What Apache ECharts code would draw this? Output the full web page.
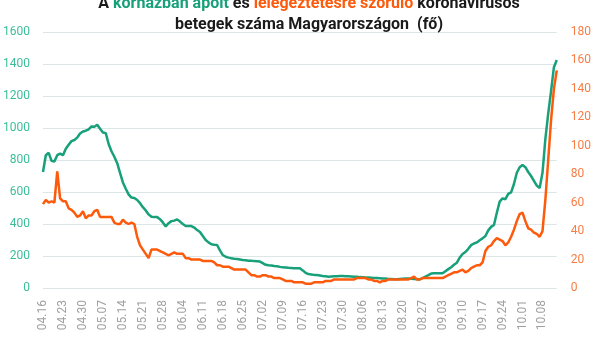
<!DOCTYPE html>
<html><head><meta charset="utf-8">
<script src="https://cdn.jsdelivr.net/npm/echarts@6/dist/echarts.min.js"></script>
<style>html,body{margin:0;padding:0;background:#fff}#c{width:594px;height:337px}</style>
</head><body><div id="c"></div>
<script>
// categories: daily dates from 04.16 to 10.13
var startMonth = 4, startDay = 16, dayCount = 181;
var hospitalized = [725,830,845,795,790,830,840,830,870,895,918,925,940,965,978,983,992,1010,1008,1020,995,972,968,900,855,820,780,720,660,620,585,565,562,550,530,505,485,460,445,443,443,430,410,385,405,418,421,429,415,400,388,387,387,378,362,350,325,300,285,273,270,269,235,206,195,190,186,183,181,178,175,173,171,170,168,167,165,155,145,142,140,137,136,132,129,128,126,125,124,124,123,110,95,87,85,82,81,78,75,73,71,72,73,74,75,75,74,73,72,71,70,68,67,66,65,64,63,62,61,60,59,57,56,54,54,56,58,59,60,58,56,54,54,62,71,80,90,92,92,92,92,105,118,130,145,158,190,212,225,245,268,278,285,298,310,325,360,382,394,470,540,560,555,588,598,650,720,755,769,755,725,700,670,640,625,720,930,1090,1230,1380,1425];
var ventilated = [59,62,60,61,60,82,63,61,61,56,55,53,50,51,54,49,51,51,54,55,50,50,50,50,50,46,45,45,48,46,45,46,45,36,30,27,24,21,27,27,27,26,25,24,23,24,25,24,24,24,21,21,20,20,20,20,19,19,19,19,18,16,16,15,15,15,14,13,13,13,13,13,11,9,9,8,8,9,9,8,8,7,7,7,6,5,5,5,4,4,4,4,3,3,3,4,4,4,4,5,5,5,6,6,6,6,6,6,6,6,7,7,7,7,6,6,5,5,4,5,5,6,6,6,6,6,6,6,6,7,8,6,6,7,7,7,7,7,7,7,7,8,9,10,11,11,12,13,11,12,14,15,16,16,18,26,29,30,33,35,34,33,30,32,36,41,47,52,53,47,42,41,39,38,36,40,62,90,118,140,153];
var leftTicks = {min:0, max:1600, interval:200};
var rightTicks = {min:0, max:180, interval:20};

var monthDays = [0,31,29,31,30,31,30,31,31,30,31,30,31];
var dates = [];
(function(){
  var m = startMonth, d = startDay;
  for (var i = 0; i < dayCount; i++) {
    dates.push((m<10?'0':'')+m+'.'+(d<10?'0':'')+d);
    d++; if (d > monthDays[m]) { d = 1; m++; }
  }
})();

var GREEN = '#17a079', ORANGE = '#fd5a0c';
var chart = echarts.init(document.getElementById('c'));
var rs = function(c){return {fontFamily:'Roboto',fontWeight:'bold',fontSize:16,color:c,lineHeight:21};};
chart.setOption({
  animation:false,
  title:{
    text:'{n|A }{g|kórházban ápolt}{n| és }{o|lélegeztetésre szoruló}{n| koronavírusos}\n{n|betegek száma Magyarországon  (fő)}',
    left:304, textAlign:'center', top:-12,
    textStyle:{ rich:{ n:rs('#1a1a1a'), g:rs(GREEN), o:rs(ORANGE) } }
  },
  grid:{left:42,right:36,top:32,bottom:49},
  xAxis:{
    type:'category', data:dates, boundaryGap:false,
    axisLine:{show:false}, axisTick:{show:false},
    axisLabel:{interval:6, rotate:90, color:'#a0a0a0', fontFamily:'Roboto', fontSize:12, margin:12}
  },
  yAxis:[
    {type:'value', min:leftTicks.min, max:leftTicks.max, interval:leftTicks.interval,
     axisLine:{show:false}, axisTick:{show:false},
     axisLabel:{color:'#3cbf98', fontFamily:'Roboto', fontSize:12, margin:13, formatter:function(v){return String(v);}},
     splitLine:{lineStyle:{color:'#dde6e6',width:1}}},
    {type:'value', min:rightTicks.min, max:rightTicks.max, interval:rightTicks.interval,
     axisLine:{show:false}, axisTick:{show:false},
     axisLabel:{color:'#f77d45', fontFamily:'Roboto', fontSize:12, margin:14},
     splitLine:{show:false}}
  ],
  series:[
    {type:'line', data:hospitalized, yAxisIndex:0, symbol:'none', lineStyle:{color:GREEN,width:2.5}, itemStyle:{color:GREEN}, z:2},
    {type:'line', data:ventilated, yAxisIndex:1, symbol:'none', lineStyle:{color:ORANGE,width:2.5}, itemStyle:{color:ORANGE}, z:3}
  ]
});
</script></body></html>
